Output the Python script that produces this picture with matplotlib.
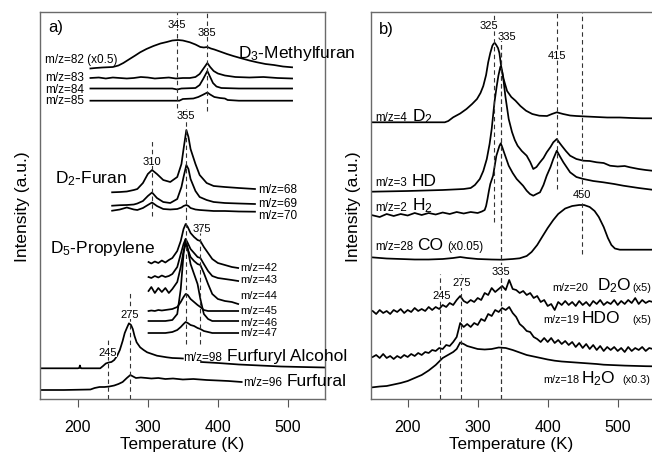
import matplotlib
matplotlib.use("Agg")
import matplotlib.pyplot as plt
import numpy as np

plt.rcParams['font.family'] = ['Liberation Sans', 'DejaVu Sans']
plt.rcParams['mathtext.fontset'] = 'custom'
plt.rcParams['mathtext.rm'] = 'Liberation Sans'
plt.rcParams['mathtext.it'] = 'Liberation Sans'

# ---------------- panel a) data (intensity in arbitrary offset units) ----------------
# D3-methylfuran
T_mf82 = [218, 225, 235, 250, 258, 265, 274, 282, 289, 298, 308, 318, 327, 335, 343, 350, 360, 368,
          375, 380, 385, 390, 395, 403, 413, 422, 432, 445, 456, 468, 480, 493, 506]
I_mf82 = [330.5, 331, 331.5, 332, 333.5, 336, 340, 343.5, 346.7, 350, 353, 355.5, 357, 358.5, 359, 358.5,
          356.7, 354.5, 352, 351.5, 352, 350.5, 349.5, 347.5, 345, 343, 341, 338.5, 336.7, 335, 334, 332.5, 331.7]
T_mf83 = [218, 230, 240, 250, 260, 270, 280, 290, 300, 310, 320, 330, 340, 350, 360, 368, 374, 379, 385,
          389, 394, 400, 410, 425, 445, 465, 485, 506]
I_mf83 = [321, 321.5, 320.5, 321.5, 321, 320.5, 321, 322, 321.5, 320.5, 321, 321.5, 320.5, 321, 321, 322,
          325, 330, 336, 332, 328, 325.5, 323.5, 322, 321.5, 322, 321, 320.5]
T_mf84 = [218, 300, 335, 342, 348, 368, 374, 379, 385, 389, 393, 398, 405, 430, 506]
I_mf84 = [310.5, 310.5, 310.5, 309.5, 310.5, 311, 314, 320, 328, 322, 316, 312.5, 311, 310.5, 310.5]
T_mf85 = [218, 345, 350, 365, 372, 378, 385, 389, 395, 403, 410, 414, 430, 506]
I_mf85 = [298.3, 298.3, 300, 300.5, 302, 304, 306.5, 304.5, 302, 301, 300.5, 299, 298.3, 298.3]

# D2-furan
T_fur = [249, 260, 270, 280, 285, 293, 300, 306, 313, 322, 332, 342, 348, 351, 355, 358, 361, 368, 374,
         384, 394, 410, 430, 453]
I_fur68 = [206.7, 207, 207.5, 209, 210, 216, 225, 229, 225, 219, 217, 222, 235, 250, 269, 262, 250, 235,
           224, 216, 213, 212, 211, 210]
I_fur69 = [193.3, 193.8, 194, 194.5, 195.5, 198, 203, 206.5, 201, 197, 196, 200, 212, 222, 234, 230, 220,
           208, 202, 199, 197, 196, 195.5, 195]
I_fur70 = [188.3, 189.5, 191.5, 189.5, 189, 191, 194, 196.5, 193, 190, 189.5, 190, 191.5, 193, 194, 193,
           191, 189.5, 189, 188.5, 188, 188, 187.5, 187.3]

# D5-propylene
T_pro = [301, 305, 310, 315, 320, 325, 330, 335, 342, 347, 351, 354, 357, 361, 366, 371, 375, 380, 386,
         392, 400, 410, 420, 429]
I_pro42 = [137, 135.5, 137.5, 136, 138.5, 136.5, 139, 141, 148, 158, 170, 175, 172, 166, 162, 159, 158,
           152, 146, 140, 136, 134, 132, 131]
I_pro43 = [122, 121, 123, 121.5, 123.5, 122, 123, 125, 132, 145, 155, 160, 156, 150, 146, 142, 141, 135,
           128, 123, 121, 120, 119, 118]
I_pro44 = [108, 112, 106, 111, 107, 111, 106, 110, 117, 132, 148, 155, 150, 142, 138, 135, 134, 126, 115,
           105, 100, 98, 97, 95]
I_pro45 = [88, 88.5, 88, 89, 88.5, 89, 89.5, 90, 92, 97, 102, 105, 104, 100, 97, 94, 92, 89, 88, 88, 88,
           88, 88, 88]
I_pro46 = [78, 78, 78, 78, 78, 78, 78.5, 79, 85, 110, 145, 160, 150, 135, 125, 115, 100, 85, 80, 78, 78,
           78, 78, 78]
I_pro47 = [66, 66, 66, 66, 66, 66, 66.5, 67, 69, 72, 75, 77, 76, 74, 73, 71, 70, 68, 67, 66, 66, 66, 66, 66]

# furfuryl alcohol (m/z=98), gap behind its label
T_fa = [146, 200, 202, 203, 204, 205, 232, 236, 240, 244, 248, 252, 256, 260, 264, 267, 270, 273, 276,
        278.5, 281, 284, 289, 294, 299, 306, 313, 320, 327, 335, 346, 350, 351, 376, 400, 430, 460, 490,
        520, 553]
I_fa = [30.7, 30.7, 31, 33.5, 31, 30.7, 30.7, 33, 35.5, 36.5, 37, 39, 43, 49, 58, 66, 71, 75.7, 74, 70,
        63, 56.7, 51.7, 49, 46.7, 45, 43.3, 42.5, 41.7, 41, 40.7, 40.5, np.nan, 37, 36, 34.5, 33.5, 32.5,
        32, 31.5]
# furfural (m/z=96)
T_fal = [146, 180, 218, 224, 231, 238, 245, 252, 258, 264, 270, 275, 279, 283, 290, 298, 305, 315, 325,
         336, 350, 365, 384, 400, 415, 434]
I_fal = [9, 9, 9.5, 11, 12, 12, 12.5, 13.5, 15, 17, 21, 24, 22.5, 21, 21.5, 21, 20.5, 21, 20, 20.5, 19.5,
         20, 19, 18.5, 18, 17]

# ---------------- panel b) data ----------------
T_d2 = [148, 200, 253, 258, 265, 275, 284, 292, 299, 304, 308, 312, 315, 318, 321, 323, 324.5, 326.5,
        329, 331, 333.5, 337, 342, 348, 354, 361, 369, 378, 388, 399, 406, 413, 422, 432, 441, 455, 470,
        485, 503, 520, 535, 549]
I_d2 = [276.7, 276.7, 276.7, 278, 281.7, 285.5, 290, 295, 300, 306, 313, 324, 336.7, 346, 353.3, 355.5,
        356, 354, 351, 346, 333, 320, 308, 302, 298.3, 293, 288.3, 285, 283.3, 283, 285, 286.7, 285, 283.5,
        283, 282.5, 282, 281.5, 281.5, 281, 280.7, 280.7]
T_hd = [148, 200, 250, 280, 290, 296, 303, 308, 313, 317, 320, 324, 327, 329.5, 332.4, 335, 337, 339.5,
        342, 344.3, 349, 353, 357, 363, 370, 375, 379.4, 384, 389, 394, 398.6, 404, 408, 413, 416, 420,
        426, 432, 441, 451, 460, 470, 480, 489, 500, 510, 517.6, 530, 540, 549]
I_hd = [207.3, 208, 209, 210, 211, 214, 220, 228, 240, 255, 270, 297, 312, 323, 332.3, 327, 318, 303,
        291, 280, 267, 259, 253.3, 248, 243.3, 237, 230, 232, 236.7, 241, 246.7, 252, 256.7, 260, 257,
        253.3, 248, 243.3, 240, 238.3, 238, 236.7, 236, 233.3, 232.5, 233, 231.7, 230, 229, 228.3]
T_h2 = [148, 160, 170, 180, 190, 200, 210, 220, 230, 240, 250, 260, 270, 280, 290, 300, 306, 310, 312,
        314, 316, 318, 322, 326.7, 331, 333, 335, 337.6, 344.3, 350, 355.7, 364.8, 370, 374.7, 379.4, 384,
        389, 394, 398.6, 404, 408, 413, 418, 422.4, 432, 441, 451, 465, 479.4, 495, 508, 530, 549]
I_h2 = [184, 182, 185, 183, 185, 183.5, 186, 184, 186, 184.5, 186.5, 185, 187, 185.5, 187, 186, 187.5,
        189, 193, 200, 208, 215, 223.3, 243.3, 253, 255.7, 252, 246.7, 233.3, 226, 220, 213.3, 208.3, 205,
        203.3, 205, 206.7, 214, 223.3, 232, 240, 248.3, 242, 236.7, 226.7, 222, 220, 218, 216.7, 215,
        213.3, 211, 209.3]
T_co = [148, 170, 190, 210, 230, 250, 265, 275, 285, 300, 320, 335, 350, 360, 370, 377, 385, 392, 400,
        408, 415, 425, 435, 445, 452, 460, 467, 473, 480, 486, 491, 496, 503, 520, 549]
I_co = [141.7, 140.5, 140, 139.5, 139.5, 140, 141, 142, 141, 140, 139.5, 139.3, 140, 140.7, 143, 147, 154,
        162, 171, 179, 185, 190.5, 193, 194, 194, 192, 188, 182, 172, 161, 154, 150.5, 149.3, 149.3, 149.3]

T_w = list(range(150, 551, 5))
I_d2o = [88, 85, 89, 86, 88, 85, 89, 87, 90, 86, 89, 87, 91, 88, 90, 88, 92, 89, 92, 90, 94, 92, 96, 94,
         99, 103, 98, 96, 99, 97, 101, 99, 106, 104, 111, 107, 110, 113, 109, 119, 110, 109, 106, 108, 104,
         106, 101, 103, 97, 99, 93, 95, 89, 97, 94, 98, 94, 97, 93, 98, 94, 97, 93, 98, 95, 99, 94, 97, 95,
         99, 94, 98, 95, 99, 96, 101, 95, 99, 96, 98, 97]
I_hdo = [42, 44, 41, 45, 41, 43, 40, 43, 41, 44, 42, 45, 43, 46, 44, 47, 46, 49, 48, 51, 50, 54, 53, 57,
         62, 76, 72, 75, 72, 76, 74, 80, 78, 85, 83, 89, 87, 91, 89, 92, 86, 82, 75, 72, 68, 67, 62, 60, 57,
         61, 57, 61, 56, 59, 55, 58, 54, 57, 52, 56, 51, 55, 50, 54, 49, 53, 48, 52, 49, 52, 48, 51, 47, 52,
         48, 51, 49, 52, 48, 51, 50]
T_h2o = [150, 160, 170, 180, 190, 200, 210, 220, 230, 240, 245, 250, 255, 260, 265, 270, 275, 280, 285,
         290, 300, 310, 320, 330, 340, 350, 360, 370, 380, 390, 400, 410, 420, 430, 440, 450, 460, 470,
         480, 490, 500, 510, 520, 530, 540, 550]
I_h2o = [11.7, 12.5, 13, 14.5, 16, 18, 21, 24, 28.5, 34, 37.5, 41, 43, 45, 47, 50, 56.5, 55, 53, 52, 50,
         49.5, 50, 51.5, 51, 49, 46.5, 44, 42.5, 41, 39.5, 38.3, 37.5, 37, 36.5, 36, 35.5, 35, 34.3, 34,
         33.7, 33.4, 33.2, 33, 32.8, 32.7]

# dashed markers: (position, y from, y to, label, label T, label y)
marks_a = [(341.5, 291, 387, '345', 341.5, 375), (385, 288, 387, '385', 385, 367),
           (354.5, 55, 290, '355', 354.5, 284), (306, 183, 260, '310', 306, 238.3),
           (375, 55, 166, '375', 377, 171), (274.7, 0, 107, '275', 274.7, 85),
           (242.5, 0, 60, '245', 242.5, 47.3)]
marks_b = [(323.7, 177, 387, '325', 316.6, 374), (333, 0, 367, '335', 341.4, 363.3),
           (412.7, 210, 387, '415', 412.7, 344), (449.5, 145, 387, '450', 449.5, 204.5),
           (333, 0, 367, '335', 333, 128.3), (275.7, 0, 125, '275', 277, 116.7),
           (246, 0, 125, '245', 248.6, 104)]

fig = plt.figure(figsize=(6.52, 4.56), dpi=100)
ax1 = fig.add_axes([40 / 652, 56 / 456, 285 / 652, 387 / 456])
ax2 = fig.add_axes([371 / 652, 56 / 456, 281 / 652, 387 / 456])

def style_axis(ax, xlim):
    ax.set_xlim(*xlim)
    ax.set_ylim(0, 387)
    ax.set_yticks([])
    ax.set_xticks([200, 300, 400, 500])
    ax.tick_params(axis='x', direction='out', length=6, width=0.8, color='#555555',
                   labelsize=11.5, pad=8.5)
    for s in ax.spines.values():
        s.set_color('#6a6a6a')
        s.set_linewidth(1.0)
    ax.set_xlabel('Temperature (K)', fontsize=12.3, labelpad=1)
    ax.set_ylabel('Intensity (a.u.)', fontsize=12.5, labelpad=7)

def draw_marks(ax, marks):
    for pos, y0, y1, lab, lx, ly in marks:
        ax.vlines(pos, y0, y1, colors='#333333', linestyles=(0, (4, 3)), linewidth=0.8)
        ax.text(lx, ly, lab, fontsize=8, ha='center', va='center',
                bbox=dict(facecolor='white', edgecolor='none', pad=0.3))

style_axis(ax1, (146, 553))
style_axis(ax2, (147.6, 549))
ax2.spines['right'].set_visible(False)

kw = dict(color='black', lw=1.25)
# panel a curves
for T, I in [(T_mf82, I_mf82), (T_mf83, I_mf83), (T_mf84, I_mf84), (T_mf85, I_mf85),
             (T_fur, I_fur68), (T_fur, I_fur69), (T_fur, I_fur70),
             (T_pro, I_pro42), (T_pro, I_pro43), (T_pro, I_pro44), (T_pro, I_pro45),
             (T_pro, I_pro46), (T_pro, I_pro47), (T_fa, I_fa), (T_fal, I_fal)]:
    ax1.plot(T, I, **kw)
# panel b curves
for T, I in [(T_d2, I_d2), (T_hd, I_hd), (T_h2, I_h2), (T_co, I_co),
             (T_w, I_d2o), (T_w, I_hdo), (T_h2o, I_h2o)]:
    ax2.plot(T, I, **kw)

draw_marks(ax1, marks_a)
draw_marks(ax2, marks_b)

small = 8.5
small_b = 7.8
big = 12.5
# panel a labels
ax1.text(157.6, 368, 'a)', fontsize=12)
for lab, y in [('m/z=82 (x0.5)', 337), ('m/z=83', 319), ('m/z=84', 307.3), ('m/z=85', 295.7)]:
    ax1.text(153.3, y, lab, fontsize=small)
ax1.text(429, 342, r'D$_{\mathregular{3}}$-Methylfuran', fontsize=big, clip_on=False)
ax1.text(167.6, 216.7, r'D$_{\mathregular{2}}$-Furan', fontsize=big)
for lab, y in [('m/z=68', 207.3), ('m/z=69', 192.7), ('m/z=70', 180.7)]:
    ax1.text(458, y, lab, fontsize=small)
ax1.text(160.4, 146.7, r'D$_{\mathregular{5}}$-Propylene', fontsize=big)
for lab, y in [('m/z=42', 129.3), ('m/z=43', 116.7), ('m/z=44', 100.7), ('m/z=45', 85.7),
               ('m/z=46', 74), ('m/z=47', 64)]:
    ax1.text(431.9, y, lab, fontsize=8.1)
ax1.text(350.9, 39.3, 'm/z=98', fontsize=small)
ax1.text(412.9, 39.3, 'Furfuryl Alcohol', fontsize=big, clip_on=False)
ax1.text(436.6, 14, 'm/z=96', fontsize=small)
ax1.text(498.6, 14, 'Furfural', fontsize=big, clip_on=False)

# panel b labels
ax2.text(159, 366, 'b)', fontsize=12)
for s, y, name in [('m/z=4', 279, r'D$_{\mathregular{2}}$'), ('m/z=3', 214, 'HD'),
                   ('m/z=2', 189.3, r'H$_{\mathregular{2}}$')]:
    ax2.text(153.3, y, s, fontsize=8.3)
    ax2.text(205.7, y, name, fontsize=big)
ax2.text(153.3, 150, 'm/z=28', fontsize=8.3)
ax2.text(212.9, 150, 'CO', fontsize=big)
ax2.text(256.6, 150, '(x0.05)', fontsize=8.3)
ax2.text(407.1, 109.3, 'm/z=20', fontsize=small_b)
ax2.text(470, 109.3, r'D$_{\mathregular{2}}$O', fontsize=big)
ax2.text(520.4, 109.3, '(x5)', fontsize=small_b)
ax2.text(393.7, 76.7, 'm/z=19', fontsize=small_b)
ax2.text(448.6, 76.7, 'HDO', fontsize=big)
ax2.text(520.4, 76.7, '(x5)', fontsize=small_b)
ax2.text(393.7, 16.7, 'm/z=18', fontsize=small_b)
ax2.text(447.1, 16.7, r'H$_{\mathregular{2}}$O', fontsize=big)
ax2.text(506.1, 16.7, '(x0.3)', fontsize=small_b)

fig.savefig('out.png', dpi=100)
